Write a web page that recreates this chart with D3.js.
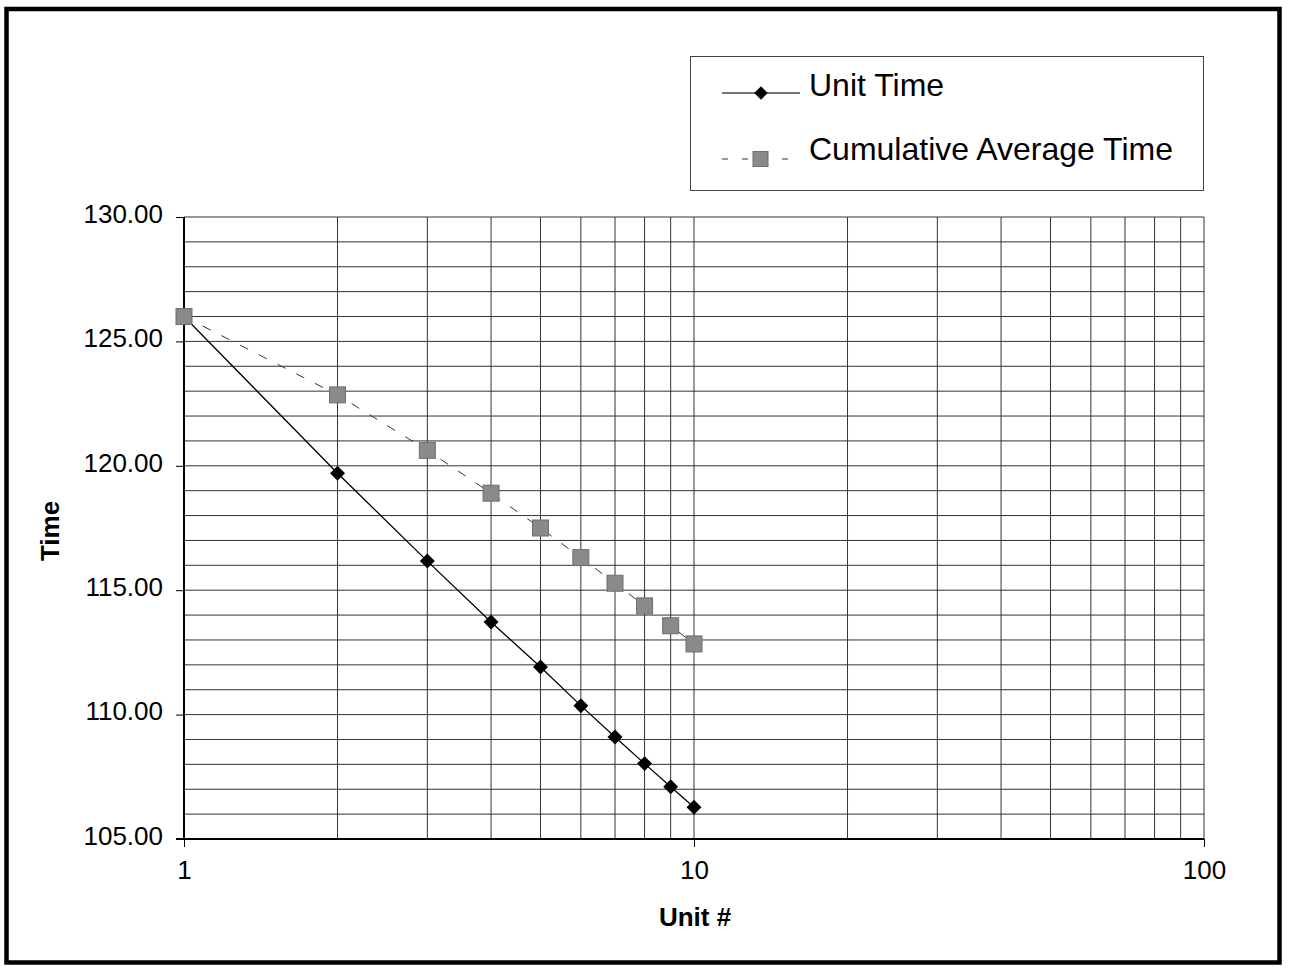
<!DOCTYPE html>
<html>
<head>
<meta charset="utf-8">
<script src="https://cdn.jsdelivr.net/npm/d3@7"></script>
<style>
  html, body { margin: 0; padding: 0; background: #fff; }
  svg { display: block; font-family: "Liberation Sans", Arial, sans-serif; }
</style>
</head>
<body>
<div id="chart"></div>
<script>
// values
const units = [1, 2, 3, 4, 5, 6, 7, 8, 9, 10];
const unitTime = [126.00, 119.70, 116.17, 113.72, 111.91, 110.36, 109.10, 108.03, 107.10, 106.28];
const cumAvgTime = [126.00, 122.85, 120.62, 118.90, 117.50, 116.31, 115.28, 114.37, 113.57, 112.84];
const yTicks = [105, 110, 115, 120, 125, 130];
const xTicks = [1, 10, 100];
const seriesNames = ["Unit Time", "Cumulative Average Time"];

const width = 1290, height = 972;

const svg = d3.select("#chart").append("svg")
    .attr("width", width)
    .attr("height", height);

// outer frame
svg.append("rect")
    .attr("x", 6.5).attr("y", 9)
    .attr("width", 1273).attr("height", 953.5)
    .attr("fill", "none")
    .attr("stroke", "#000")
    .attr("stroke-width", 4.5);

const x = d3.scaleLog().domain([1, 100]).range([184, 1204]);
const y = d3.scaleLinear().domain([105, 130]).range([839, 217]);

// grid
const xGrid = [2, 3, 4, 5, 6, 7, 8, 9, 10, 20, 30, 40, 50, 60, 70, 80, 90, 100];
svg.append("g")
    .selectAll("line")
    .data(d3.range(106, 131))
    .join("line")
    .attr("x1", x(1)).attr("x2", x(100))
    .attr("y1", d => y(d)).attr("y2", d => y(d))
    .attr("stroke", "#333")
    .attr("stroke-width", 1);

svg.append("g")
    .selectAll("line")
    .data(xGrid)
    .join("line")
    .attr("x1", d => x(d)).attr("x2", d => x(d))
    .attr("y1", y(130)).attr("y2", y(105))
    .attr("stroke", "#333")
    .attr("stroke-width", 1);

// y axis
const yAxis = svg.append("g")
    .attr("transform", `translate(${x(1)},0)`)
    .call(d3.axisLeft(y).tickValues(yTicks).tickFormat(d3.format(".2f")).tickSize(8).tickPadding(13));
yAxis.select(".domain").attr("stroke-width", 2).attr("d", `M0,${y(130)}V${y(105)}`);
yAxis.selectAll("text")
    .attr("font-size", 26)
    .attr("font-family", "Liberation Sans, Arial, sans-serif")
    .attr("fill", "#000")
    .attr("dy", "0.2em");

// x axis
const xAxis = svg.append("g")
    .attr("transform", `translate(0,${y(105)})`)
    .call(d3.axisBottom(x).tickValues(xTicks).tickFormat(d3.format("d")).tickSize(8).tickPadding(14));
xAxis.select(".domain").attr("stroke-width", 2).attr("d", `M${x(1) - 8},0H${x(100)}`);
xAxis.selectAll("text")
    .attr("font-size", 26)
    .attr("font-family", "Liberation Sans, Arial, sans-serif")
    .attr("fill", "#000");

// axis titles
svg.append("text")
    .attr("x", 695).attr("y", 926)
    .attr("text-anchor", "middle")
    .attr("font-size", 26)
    .attr("font-weight", "bold")
    .text("Unit #");

svg.append("text")
    .attr("transform", "translate(59,531) rotate(-90)")
    .attr("text-anchor", "middle")
    .attr("font-size", 26)
    .attr("font-weight", "bold")
    .text("Time");

// lines
const unitLine = d3.line().x((d, i) => x(units[i])).y(d => y(d));

svg.append("path")
    .datum(cumAvgTime)
    .attr("d", unitLine)
    .attr("fill", "none")
    .attr("stroke", "#333")
    .attr("stroke-width", 1)
    .attr("stroke-dasharray", "9,12");

svg.append("path")
    .datum(unitTime)
    .attr("d", unitLine)
    .attr("fill", "none")
    .attr("stroke", "#000")
    .attr("stroke-width", 1.3);

// markers
const diamond = d3.symbol().type(d3.symbolSquare).size(112);
const diamondSmall = d3.symbol().type(d3.symbolSquare).size(92);

svg.append("g")
    .selectAll("path")
    .data(unitTime)
    .join("path")
    .attr("d", diamond)
    .attr("transform", (d, i) => `translate(${x(units[i])},${y(d)}) rotate(45)`)
    .attr("fill", "#000");

svg.append("g")
    .selectAll("rect")
    .data(cumAvgTime)
    .join("rect")
    .attr("x", (d, i) => x(units[i]) - 8)
    .attr("y", d => y(d) - 8)
    .attr("width", 16).attr("height", 16)
    .attr("fill", "#8a8a8a")
    .attr("stroke", "#6e6e6e")
    .attr("stroke-width", 1);

// legend
const legend = svg.append("g");
legend.append("rect")
    .attr("x", 690.5).attr("y", 56.5)
    .attr("width", 513).attr("height", 134)
    .attr("fill", "#fff")
    .attr("stroke", "#444")
    .attr("stroke-width", 1);

legend.append("line")
    .attr("x1", 722).attr("x2", 800).attr("y1", 93).attr("y2", 93)
    .attr("stroke", "#444").attr("stroke-width", 1.3);
legend.append("path")
    .attr("d", diamondSmall)
    .attr("transform", "translate(761,93) rotate(45)")
    .attr("fill", "#000");

legend.append("line")
    .attr("x1", 722).attr("x2", 800).attr("y1", 159).attr("y2", 159)
    .attr("stroke", "#333").attr("stroke-width", 1.2)
    .attr("stroke-dasharray", "6,14");
legend.append("rect")
    .attr("x", 753).attr("y", 151.5)
    .attr("width", 15).attr("height", 15)
    .attr("fill", "#8a8a8a")
    .attr("stroke", "#6e6e6e");

legend.selectAll("text.lbl")
    .data(seriesNames)
    .join("text")
    .attr("class", "lbl")
    .attr("x", 809)
    .attr("y", (d, i) => 96 + i * 64)
    .attr("font-size", 32)
    .attr("fill", "#000")
    .text(d => d);
</script>
</body>
</html>
